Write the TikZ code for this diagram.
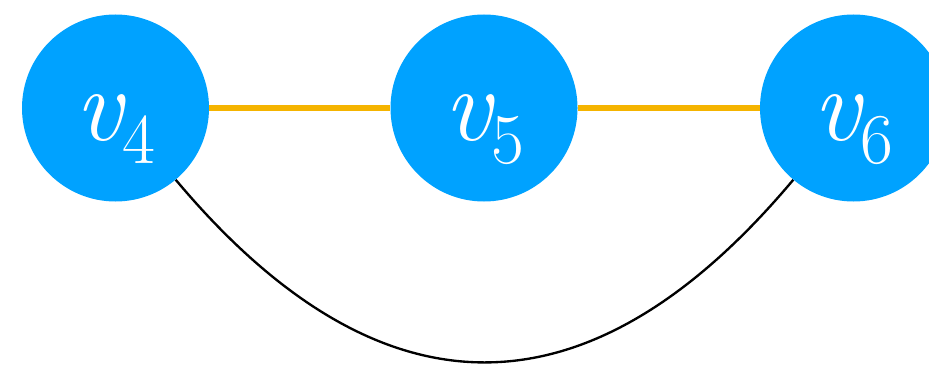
\documentclass[tikz,border=0pt]{standalone}
\usepackage{fontspec}
\usepackage{xcolor}
\usetikzlibrary{positioning}
\definecolor{nodeblue}{HTML}{00A2FF}
\definecolor{pathorange}{HTML}{F5B400}
\newcommand{\vlabel}[1]{{\fontsize{89}{89}\selectfont\itshape v}\raisebox{-0.69cm}{\fontsize{61}{61}\selectfont #1}}

\begin{document}
\begin{tikzpicture}[x=0.03cm, y=-0.03cm,
  vertex/.style={circle, fill=nodeblue, draw=none, inner sep=0pt,
                 minimum size=5.61cm, text=white, text height=1.92cm, text depth=0pt},
  hedge/.style={line width=5pt, color=pathorange},
  arc/.style={line width=2pt, color=black}
]
\clip (0,0) rectangle (929,366);
\useasboundingbox (0,0) rectangle (929,366);

\node[vertex] (v4) at (115.5,108) {\vlabel{4}};
\node[vertex] (v5) at (484,108) {\vlabel{5}};
\node[vertex] (v6) at (853.5,108) {\vlabel{6}};

\draw[hedge] (v4) -- (v5);
\draw[hedge] (v5) -- (v6);
\draw[arc] (v4.-50) to[out=-50, in=-130, looseness=1.32] (v6.-130);

\end{tikzpicture}
\end{document}
